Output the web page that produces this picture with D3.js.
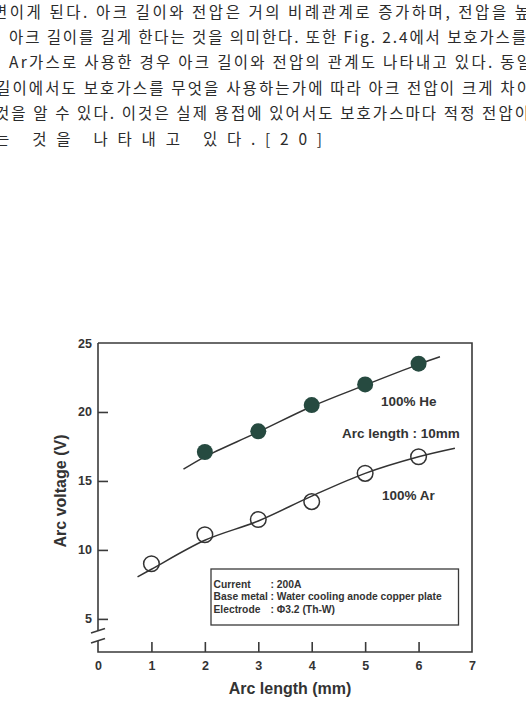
<!DOCTYPE html>
<html>
<head>
<meta charset="utf-8">
<script src="https://cdn.jsdelivr.net/npm/d3@7"></script>
<style>
  body { margin: 0; background: #fff; }
  svg { display: block; }
  text { font-family: "Liberation Sans", Arial, sans-serif; fill: #333; }
  .kr { font-family: "Noto Sans CJK KR", sans-serif; font-size: 15.5px; fill: #2b2b2b; }
</style>
</head>
<body>
<div id="chart"></div>
<script>
// paragraph lines above the figure (page crop, edges are cut)
let paraLines = [
    '변이게 된다. 아크 길이와 전압은 거의 비례관계로 증가하며, 전압을 높',
    '아크 길이를 길게 한다는 것을 의미한다. 또한 Fig. 2.4에서 보호가스를',
    'Ar가스로 사용한 경우 아크 길이와 전압의 관계도 나타내고 있다. 동일',
    '길이에서도 보호가스를 무엇을 사용하는가에 따라 아크 전압이 크게 차이',
    '것을 알 수 있다. 이것은 실제 용접에 있어서도 보호가스마다 적정 전압이',
    '는 것을 나타내고 있다.[20]'
];

let arcLengths = [1, 2, 3, 4, 5, 6];
let heVoltage = [null, 17.1, 18.6, 20.5, 22.0, 23.5];
let arVoltage = [9.0, 11.1, 12.2, 13.5, 15.55, 16.75];

// hand drawn trend curves
let heCurve = [[1.6, 15.85], [2, 16.75], [3, 18.55], [4, 20.4], [5, 21.95], [6, 23.45], [6.4, 24.0]];
let arCurve = [[0.74, 8.05], [1, 8.6], [2, 10.7], [3, 12.1], [4, 13.9], [5, 15.55], [6, 16.75], [6.68, 17.37]];

let xTicks = [0, 1, 2, 3, 4, 5, 6, 7];
let yTicks = [5, 10, 15, 20, 25];

let infoRows = [
    ['Current', ': 200A'],
    ['Base metal', ': Water cooling anode copper plate'],
    ['Electrode', ': \u03A63.2 (Th-W)']
];

let width = 526, height = 705;
let svg = d3.select('#chart').append('svg')
    .attr('width', width)
    .attr('height', height);

// ---- paragraph ----
let paraStart = [-7, 9, 9, -4, -5, -5];
let paraEnd = [529, 526, 531, 531, 529, 322];
svg.append('g')
    .selectAll('text')
    .data(paraLines)
    .enter().append('text')
    .attr('class', 'kr')
    .attr('x', (d, i) => paraStart[i])
    .attr('y', (d, i) => 17.5 + i * 25.4)
    .attr('textLength', (d, i) => paraEnd[i] - paraStart[i])
    .attr('lengthAdjust', 'spacing')
    .text(d => d);

// ---- chart ----
let plotLeft = 98, plotRight = 472, plotTop = 343, plotBottom = 652;
let x = d3.scaleLinear().domain([0, 7]).range([plotLeft, plotRight]);
let y = d3.scaleLinear().domain([2.6, 25]).range([plotBottom, plotTop]);

let frame = svg.append('g')
    .attr('stroke', '#3a3a3a')
    .attr('stroke-width', 1.6)
    .attr('fill', 'none');
frame.append('path').attr('d', `M${plotLeft},${plotTop}H${plotRight}V${plotBottom}H${plotLeft}V641`);
frame.append('path').attr('d', `M${plotLeft},${plotTop}V631`);
// axis break marks
frame.append('path').attr('d', 'M91,633L105,628.5');
frame.append('path').attr('d', 'M91,643L105,638.5');

let xAxis = d3.axisBottom(x)
    .tickValues(xTicks)
    .tickFormat(d3.format('d'))
    .tickSizeInner(-10)
    .tickSizeOuter(0)
    .tickPadding(9);
let gx = svg.append('g')
    .attr('transform', `translate(0,${plotBottom})`)
    .call(xAxis);
gx.select('.domain').remove();
gx.selectAll('.tick line')
    .attr('stroke', '#3a3a3a')
    .attr('stroke-width', 1.6)
    .filter(d => d === 0 || d === 7).remove();
gx.selectAll('.tick text')
    .attr('font-size', 12.5)
    .attr('font-weight', 'bold')
    .attr('font-family', '"Liberation Sans", Arial, sans-serif')
    .attr('fill', '#333');

let yAxis = d3.axisLeft(y)
    .tickValues(yTicks)
    .tickFormat(d3.format('d'))
    .tickSizeInner(-10)
    .tickSizeOuter(0)
    .tickPadding(6);
let gy = svg.append('g')
    .attr('transform', `translate(${plotLeft},0)`)
    .call(yAxis);
gy.select('.domain').remove();
gy.selectAll('.tick line')
    .attr('stroke', '#3a3a3a')
    .attr('stroke-width', 1.6)
    .filter(d => d === 25).remove();
gy.selectAll('.tick text')
    .attr('font-size', 12.5)
    .attr('font-weight', 'bold')
    .attr('font-family', '"Liberation Sans", Arial, sans-serif')
    .attr('fill', '#333');

// axis titles
svg.append('text')
    .attr('x', 290)
    .attr('y', 694)
    .attr('text-anchor', 'middle')
    .attr('font-size', 16)
    .attr('font-weight', 'bold')
    .text('Arc length (mm)');
svg.append('text')
    .attr('transform', 'translate(66,491) rotate(-90)')
    .attr('text-anchor', 'middle')
    .attr('font-size', 16)
    .attr('font-weight', 'bold')
    .text('Arc voltage (V)');

// trend curves
let line = d3.line()
    .x(d => x(d[0]))
    .y(d => y(d[1]))
    .curve(d3.curveCatmullRom);
svg.append('g')
    .selectAll('path')
    .data([heCurve, arCurve])
    .enter().append('path')
    .attr('d', line)
    .attr('fill', 'none')
    .attr('stroke', '#333')
    .attr('stroke-width', 1.5);

// data markers
let hePoints = arcLengths.map((a, i) => ({ a: a, v: heVoltage[i] })).filter(d => d.v !== null);
let arPoints = arcLengths.map((a, i) => ({ a: a, v: arVoltage[i] }));

svg.append('g')
    .selectAll('circle')
    .data(hePoints)
    .enter().append('circle')
    .attr('cx', d => x(d.a))
    .attr('cy', d => y(d.v))
    .attr('r', 8)
    .attr('fill', '#264a40');

svg.append('g')
    .selectAll('circle')
    .data(arPoints)
    .enter().append('circle')
    .attr('cx', d => x(d.a))
    .attr('cy', d => y(d.v))
    .attr('r', 7.8)
    .attr('fill', 'none')
    .attr('stroke', '#333')
    .attr('stroke-width', 1.5);

// annotations
let notes = [
    { t: '100% He', x: 381, y: 406 },
    { t: 'Arc length : 10mm', x: 342, y: 437.5 },
    { t: '100% Ar', x: 382, y: 500 }
];
svg.append('g')
    .selectAll('text')
    .data(notes)
    .enter().append('text')
    .attr('x', d => d.x)
    .attr('y', d => d.y)
    .attr('font-size', 13.5)
    .attr('font-weight', 'bold')
    .text(d => d.t);

// info box
let box = svg.append('g');
box.append('rect')
    .attr('x', 211)
    .attr('y', 569)
    .attr('width', 247.5)
    .attr('height', 56)
    .attr('fill', 'none')
    .attr('stroke', '#3a3a3a')
    .attr('stroke-width', 1.3);
let rows = box.selectAll('g')
    .data(infoRows)
    .enter().append('g')
    .attr('transform', (d, i) => `translate(0,${588 + i * 12.4})`);
rows.append('text')
    .attr('x', 213.5)
    .attr('font-size', 10.3)
    .attr('font-weight', 'bold')
    .text(d => d[0]);
rows.append('text')
    .attr('x', 270.5)
    .attr('font-size', 10.3)
    .attr('font-weight', 'bold')
    .text(d => d[1]);
</script>
</body>
</html>
